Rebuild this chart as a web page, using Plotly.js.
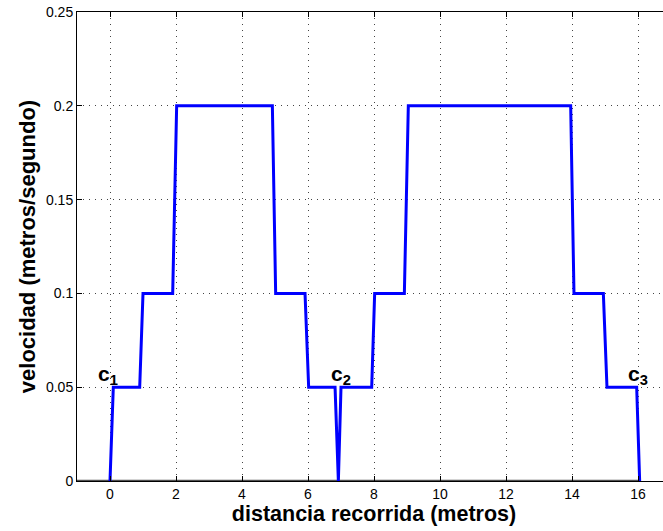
<!DOCTYPE html>
<html>
<head>
<meta charset="utf-8">
<script src="https://cdn.plot.ly/plotly-3.0.1.min.js"></script>
<style>html,body{margin:0;padding:0;overflow:hidden;background:#fff;}#chart{width:700px;height:531px;}</style>
</head>
<body>
<div id="chart"></div>
<script>
// Velocity profile (distance in metres, velocity in m/s)
const distancia = [0, 0.1, 0.9, 1.0, 1.9, 2.02, 4.92, 5.02, 5.91, 6.02, 6.82, 6.92, 7.0, 7.93, 8.02, 8.92, 9.04, 13.96, 14.06, 14.95, 15.06, 15.96, 16.05];
const velocidad = [0, 0.05, 0.05, 0.1, 0.1, 0.2, 0.2, 0.1, 0.1, 0.05, 0.05, 0, 0.05, 0.05, 0.1, 0.1, 0.2, 0.2, 0.1, 0.1, 0.05, 0.05, 0];
const baseX = [-1, 16];
const baseY = [0, 0];
const etiquetas = ["c<sub>1</sub>", "c<sub>2</sub>", "c<sub>3</sub>"];
const etiquetasX = [-0.42, 6.65, 15.65];
const etiquetasY = [0.05, 0.05, 0.05];
const xTicks = [0, 2, 4, 6, 8, 10, 12, 14, 16];
const yTicks = [0, 0.05, 0.1, 0.15, 0.2, 0.25];
const yTickText = ["0", "0.05", "0.1", "0.15", "0.2", "0.25"];

const font = "Liberation Sans, Arial, Helvetica, sans-serif";

const traces = [
  {x: baseX, y: baseY, mode: "lines", line: {color: "#505050", width: 2.5}, hoverinfo: "skip"},
  {x: distancia, y: velocidad, mode: "lines", line: {color: "#0000ff", width: 3}}
];

const annotations = etiquetas.map((t, i) => ({
  x: etiquetasX[i], y: etiquetasY[i], xref: "x", yref: "y",
  text: "<b>" + t + "</b>", showarrow: false,
  xanchor: "left", yanchor: "bottom", yshift: -3,
  font: {family: font, size: 21, color: "#000"}
}));

const axisCommon = {
  showline: true, linecolor: "#000", linewidth: 1, mirror: "ticks",
  ticks: "inside", ticklen: 5, tickcolor: "#000", tickwidth: 1,
  showgrid: true, gridcolor: "#444", griddash: "1px,5px", gridwidth: 1,
  zeroline: false, tickfont: {family: font, size: 14, color: "#000"}
};

const layout = {
  width: 700, height: 531,
  margin: {l: 77, r: 29, t: 12, b: 50},
  paper_bgcolor: "#fff", plot_bgcolor: "#fff",
  showlegend: false,
  font: {family: font},
  xaxis: Object.assign({}, axisCommon, {
    range: [-1, 17], tickvals: xTicks, ticktext: xTicks.map(String),
    title: {text: "<b>distancia recorrida (metros)</b>", font: {family: font, size: 21.5, color: "#000"}, standoff: 2}
  }),
  yaxis: Object.assign({}, axisCommon, {
    range: [0, 0.25], tickvals: yTicks, ticktext: yTickText,
    title: {text: "<b>velocidad (metros/segundo)</b>", font: {family: font, size: 22, color: "#000"}, standoff: 4}
  }),
  annotations: annotations
};

Plotly.newPlot("chart", traces, layout, {displayModeBar: false, staticPlot: true});
</script>
</body>
</html>
